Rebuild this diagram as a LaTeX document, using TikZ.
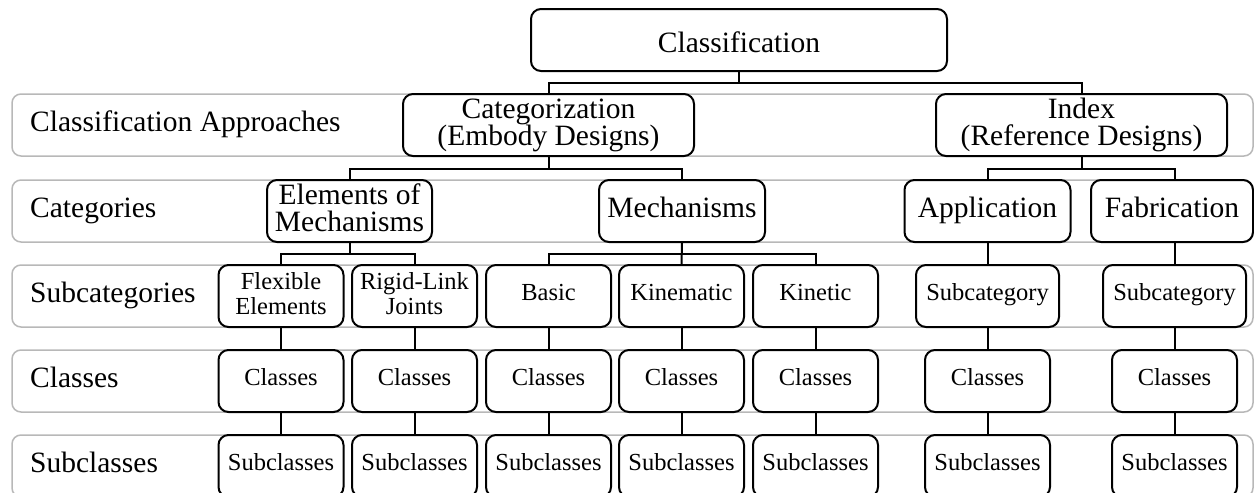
\documentclass[tikz,border=0pt]{standalone}
\usepackage{fontspec}
\setmainfont{Liberation Serif}
\usetikzlibrary{positioning}

\begin{document}
\begin{tikzpicture}[x=1pt,y=-1pt,
    band/.style={draw=black!28, line width=1.5pt, rounded corners=9pt},
    rowlabel/.style={anchor=west, inner sep=0pt, text height=20pt, text depth=7pt,
        font=\fontsize{29.5}{27}\selectfont},
    box/.style={draw, fill=white, line width=2pt, rounded corners=10pt, inner sep=0pt,
        align=center, minimum height=62pt, font=\fontsize{29.5}{27}\selectfont},
    bigline/.style={text height=20pt, text depth=8pt},
    smallbox/.style={box, minimum width=125pt, font=\fontsize{24.5}{25}\selectfont},
    smallline/.style={text height=16pt, text depth=8pt},
    link/.style={line width=2pt}]
    \useasboundingbox (0,0) rectangle (1254,493);
    \clip (0,0) rectangle (1254,493);

    % Gray bands with their row labels
    \foreach \i/\y/\txt in {1/94/Classification Approaches, 2/180/Categories,
                            3/265/Subcategories, 4/350/Classes, 5/435/Subclasses} {
        \draw[band] (12,\y) rectangle (1253,\y+62);
        \node[rowlabel] (row\i) at (30,\y+31) {\txt};
    }

    % Top levels
    \node[box, text height=24pt, text depth=0pt, minimum width=416pt] (cls) at (739,40) {Classification};
    \node[box, minimum width=291pt] (cat) at (548.5,125) {Categorization\\(Embody Designs)};
    \node[box, minimum width=291pt] (idx) at (1081.5,125) {Index\\(Reference Designs)};
    \node[box, minimum width=165pt] (elem) at (349.5,211) {Elements of\\Mechanisms\vphantom{(}};
    \node[box, bigline, minimum width=166pt] (mech) at (682,211) {Mechanisms};
    \node[box, bigline, minimum width=166pt] (app) at (987.5,211) {Application};
    \node[box, bigline, minimum width=162pt] (fab) at (1172,211) {Fabrication};

    % Subcategories
    \node[smallbox] (s1) at (281,296) {Flexible\\Elements\vphantom{(}};
    \node[smallbox] (s2) at (414.5,296) {Rigid-Link\\Joints\vphantom{(}};
    \node[smallbox, smallline] (s3) at (548.5,296) {Basic};
    \node[smallbox, smallline] (s4) at (681.5,296) {Kinematic};
    \node[smallbox, smallline] (s5) at (815.5,296) {Kinetic};
    \node[smallbox, smallline, minimum width=143pt] (s6) at (987.5,296) {Subcategory};
    \node[smallbox, smallline, minimum width=143pt] (s7) at (1174.5,296) {Subcategory};

    % Classes and subclasses
    \foreach \c/\x in {1/281,2/414.5,3/548.5,4/681.5,5/815.5,6/987.5,7/1174.5} {
        \node[smallbox, smallline] (cl\c) at (\x,381) {Classes};
        \node[smallbox, smallline] (sc\c) at (\x,466) {Subclasses};
        \draw[link] (s\c.south) -- (cl\c.north);
        \draw[link] (cl\c.south) -- (sc\c.north);
    }

    % Tree connectors
    \draw[link] (cls.south) -- ++(0,11) -| (cat.north);
    \draw[link] (cls.south) -- ++(0,11) -| (idx.north);
    \draw[link] (cat.south) -- ++(0,12) -| (elem.north);
    \draw[link] (cat.south) -- ++(0,12) -| (mech.north);
    \draw[link] (idx.south) -- ++(0,12) -| (app.north);
    \draw[link] (idx.south) -- ++(0,12) -| (fab.north -| s7.north);
    \draw[link] (elem.south) -- ++(0,11) -| (s1.north);
    \draw[link] (elem.south) -- ++(0,11) -| (s2.north);
    \draw[link] (mech.south) -- ++(0,11) -| (s3.north);
    \draw[link] (mech.south) -- (s4.north);
    \draw[link] (mech.south) -- ++(0,11) -| (s5.north);
    \draw[link] (app.south) -- (s6.north);
    \draw[link] (fab.south -| s7.north) -- (s7.north);
\end{tikzpicture}
\end{document}
